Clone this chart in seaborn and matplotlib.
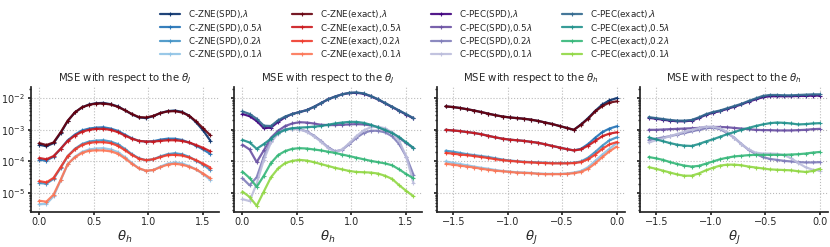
import numpy as np
import pandas as pd
import matplotlib
matplotlib.use("Agg")
import matplotlib.pyplot as plt
import seaborn as sns

# angle grids (25 samples over a quarter turn)
theta_pos = np.linspace(0, np.pi / 2, 25)
theta_neg = np.linspace(-np.pi / 2, 0, 25)

fracs = ["", "0.5", "0.2", "0.1"]

# log10(MSE)
# panel 1: ZNE vs theta_h
zne_spd_h = [
    [-3.47, -3.52, -3.42, -3.10, -2.72, -2.45, -2.29, -2.20, -2.16, -2.15, -2.19, -2.26, -2.38, -2.51, -2.61, -2.63, -2.57, -2.47, -2.41, -2.39, -2.43, -2.55, -2.76, -3.02, -3.34],
    [-3.95, -3.97, -3.85, -3.60, -3.33, -3.15, -3.02, -2.96, -2.93, -2.92, -2.96, -3.03, -3.15, -3.27, -3.35, -3.37, -3.36, -3.31, -3.28, -3.28, -3.32, -3.40, -3.50, -3.62, -3.76],
    [-4.68, -4.70, -4.55, -4.20, -3.83, -3.60, -3.45, -3.37, -3.34, -3.33, -3.37, -3.45, -3.60, -3.77, -3.90, -3.96, -3.93, -3.84, -3.77, -3.74, -3.77, -3.85, -3.97, -4.10, -4.27],
    [-5.35, -5.34, -5.10, -4.60, -4.08, -3.85, -3.70, -3.62, -3.59, -3.58, -3.62, -3.70, -3.86, -4.05, -4.22, -4.30, -4.27, -4.16, -4.07, -4.03, -4.06, -4.14, -4.25, -4.40, -4.58],
]
zne_exact_h = [
    [-3.42, -3.48, -3.40, -3.08, -2.71, -2.45, -2.29, -2.21, -2.17, -2.17, -2.20, -2.27, -2.38, -2.50, -2.60, -2.61, -2.56, -2.47, -2.42, -2.41, -2.45, -2.55, -2.73, -2.95, -3.17],
    [-3.89, -3.93, -3.83, -3.60, -3.35, -3.18, -3.06, -3.00, -2.97, -2.97, -3.00, -3.07, -3.18, -3.28, -3.35, -3.37, -3.37, -3.35, -3.33, -3.33, -3.35, -3.40, -3.48, -3.57, -3.68],
    [-4.62, -4.66, -4.52, -4.18, -3.83, -3.62, -3.48, -3.41, -3.39, -3.39, -3.42, -3.50, -3.64, -3.79, -3.91, -3.96, -3.93, -3.86, -3.80, -3.79, -3.81, -3.87, -3.96, -4.07, -4.19],
    [-5.24, -5.27, -5.05, -4.58, -4.08, -3.87, -3.73, -3.66, -3.65, -3.65, -3.68, -3.75, -3.90, -4.07, -4.22, -4.29, -4.27, -4.18, -4.10, -4.07, -4.10, -4.16, -4.25, -4.38, -4.53],
]
# panel 2: PEC vs theta_h
pec_spd_h = [
    [-2.50, -2.57, -2.72, -2.95, -2.93, -2.75, -2.60, -2.50, -2.44, -2.38, -2.28, -2.16, -2.04, -1.95, -1.88, -1.84, -1.83, -1.86, -1.94, -2.04, -2.16, -2.28, -2.40, -2.52, -2.64],
    [-3.47, -3.62, -4.02, -3.65, -3.25, -3.03, -2.88, -2.80, -2.76, -2.77, -2.80, -2.84, -2.85, -2.85, -2.84, -2.83, -2.82, -2.83, -2.86, -2.92, -3.00, -3.10, -3.25, -3.42, -3.58],
    [-4.53, -4.75, -4.50, -3.85, -3.35, -3.10, -2.98, -2.96, -2.98, -3.05, -3.18, -3.35, -3.55, -3.68, -3.63, -3.45, -3.25, -3.10, -3.03, -3.03, -3.08, -3.20, -3.45, -3.85, -4.42],
    [-5.19, -5.25, -4.70, -3.95, -3.40, -3.12, -3.00, -2.97, -2.99, -3.06, -3.20, -3.37, -3.57, -3.70, -3.62, -3.42, -3.20, -3.02, -2.92, -2.90, -2.95, -3.08, -3.35, -3.85, -4.68],
]
pec_exact_h = [
    [-2.42, -2.50, -2.65, -2.87, -2.88, -2.70, -2.58, -2.50, -2.44, -2.38, -2.28, -2.16, -2.04, -1.95, -1.88, -1.83, -1.82, -1.85, -1.93, -2.03, -2.15, -2.27, -2.39, -2.51, -2.63],
    [-3.32, -3.40, -3.60, -3.45, -3.28, -3.10, -3.00, -2.95, -2.93, -2.92, -2.90, -2.88, -2.84, -2.80, -2.77, -2.75, -2.75, -2.78, -2.84, -2.92, -3.00, -3.10, -3.23, -3.40, -3.57],
    [-4.32, -4.52, -4.80, -4.45, -4.05, -3.80, -3.67, -3.60, -3.58, -3.59, -3.62, -3.65, -3.69, -3.73, -3.78, -3.83, -3.88, -3.93, -3.98, -4.02, -4.06, -4.12, -4.25, -4.40, -4.53],
    [-4.95, -5.12, -5.40, -4.95, -4.50, -4.22, -4.05, -3.98, -3.95, -3.97, -4.02, -4.08, -4.14, -4.20, -4.25, -4.30, -4.33, -4.34, -4.35, -4.38, -4.45, -4.55, -4.75, -4.93, -5.10],
]
# panel 3: ZNE vs theta_J
zne_spd_j = [
    [-2.26, -2.28, -2.31, -2.35, -2.39, -2.44, -2.49, -2.54, -2.58, -2.61, -2.63, -2.65, -2.68, -2.72, -2.77, -2.82, -2.88, -2.94, -3.00, -2.83, -2.63, -2.40, -2.20, -2.07, -2.00],
    [-3.00, -3.02, -3.04, -3.07, -3.10, -3.14, -3.19, -3.24, -3.28, -3.31, -3.33, -3.35, -3.38, -3.41, -3.46, -3.51, -3.56, -3.61, -3.65, -3.60, -3.45, -3.25, -3.07, -2.96, -2.89],
    [-3.66, -3.69, -3.73, -3.77, -3.80, -3.83, -3.86, -3.90, -3.94, -3.97, -3.99, -4.01, -4.02, -4.03, -4.04, -4.05, -4.05, -4.05, -4.04, -4.00, -3.88, -3.70, -3.50, -3.33, -3.24],
    [-4.00, -4.04, -4.08, -4.12, -4.16, -4.20, -4.23, -4.27, -4.30, -4.32, -4.34, -4.35, -4.36, -4.38, -4.39, -4.39, -4.39, -4.38, -4.35, -4.30, -4.18, -3.98, -3.78, -3.60, -3.42],
]
zne_exact_j = [
    [-2.26, -2.28, -2.31, -2.35, -2.39, -2.44, -2.49, -2.54, -2.58, -2.61, -2.63, -2.65, -2.68, -2.72, -2.77, -2.82, -2.88, -2.94, -3.00, -2.84, -2.65, -2.42, -2.25, -2.14, -2.10],
    [-3.00, -3.02, -3.04, -3.07, -3.10, -3.14, -3.19, -3.24, -3.28, -3.31, -3.33, -3.35, -3.38, -3.41, -3.46, -3.51, -3.56, -3.61, -3.65, -3.62, -3.50, -3.35, -3.20, -3.12, -3.08],
    [-3.73, -3.75, -3.78, -3.80, -3.83, -3.86, -3.89, -3.93, -3.96, -3.98, -4.00, -4.02, -4.03, -4.04, -4.05, -4.06, -4.06, -4.06, -4.05, -4.02, -3.93, -3.78, -3.60, -3.46, -3.39],
    [-4.07, -4.10, -4.13, -4.16, -4.19, -4.23, -4.26, -4.29, -4.31, -4.33, -4.35, -4.36, -4.37, -4.39, -4.40, -4.40, -4.40, -4.39, -4.37, -4.33, -4.23, -4.06, -3.86, -3.68, -3.53],
]
# panel 4: PEC vs theta_J
pec_spd_j = [
    [-2.62, -2.65, -2.68, -2.71, -2.73, -2.73, -2.71, -2.63, -2.53, -2.46, -2.41, -2.34, -2.27, -2.20, -2.11, -2.04, -1.97, -1.94, -1.94, -1.94, -1.94, -1.93, -1.93, -1.92, -1.92],
    [-3.00, -3.00, -2.99, -2.98, -2.97, -2.96, -2.95, -2.94, -2.92, -2.91, -2.91, -2.92, -2.94, -2.96, -2.98, -3.00, -3.01, -3.01, -3.02, -3.02, -3.02, -3.01, -3.00, -2.98, -2.97],
    [-3.32, -3.28, -3.24, -3.20, -3.15, -3.10, -3.05, -3.00, -2.95, -2.93, -2.98, -3.10, -3.25, -3.45, -3.63, -3.76, -3.86, -3.92, -3.95, -3.98, -4.00, -4.02, -4.03, -4.03, -4.02],
    [-3.40, -3.33, -3.27, -3.20, -3.13, -3.06, -3.00, -2.95, -2.90, -2.90, -2.95, -3.07, -3.25, -3.45, -3.62, -3.72, -3.75, -3.75, -3.76, -3.80, -3.90, -4.05, -4.18, -4.26, -4.29],
]
pec_exact_j = [
    [-2.60, -2.63, -2.66, -2.69, -2.71, -2.71, -2.69, -2.61, -2.51, -2.44, -2.39, -2.32, -2.25, -2.18, -2.09, -2.01, -1.93, -1.90, -1.90, -1.91, -1.91, -1.90, -1.89, -1.88, -1.88],
    [-3.24, -3.30, -3.36, -3.42, -3.47, -3.50, -3.51, -3.45, -3.37, -3.30, -3.22, -3.14, -3.07, -3.00, -2.94, -2.88, -2.83, -2.79, -2.77, -2.78, -2.80, -2.83, -2.82, -2.80, -2.79],
    [-3.86, -3.90, -3.95, -4.02, -4.08, -4.13, -4.16, -4.14, -4.07, -4.00, -3.93, -3.88, -3.84, -3.82, -3.80, -3.79, -3.79, -3.79, -3.79, -3.79, -3.78, -3.77, -3.75, -3.72, -3.70],
    [-4.18, -4.23, -4.29, -4.35, -4.41, -4.45, -4.45, -4.38, -4.28, -4.20, -4.13, -4.10, -4.10, -4.12, -4.16, -4.19, -4.22, -4.25, -4.26, -4.27, -4.28, -4.31, -4.33, -4.30, -4.23],
]

blues = ["#08306b", "#2171b5", "#4292c6", "#8fc3e6"]
reds = ["#67000d", "#cb181d", "#ef3b2c", "#fc7656"]
purples = ["#3f007d", "#6a51a3", "#807dba", "#bcbddc"]
greens = ["#31688e", "#21918c", "#35b779", "#90d743"]

sns.set_theme(style="ticks")
plt.rcParams["font.family"] = ["DejaVu Sans"]
plt.rcParams["mathtext.fontset"] = "dejavusans"

fig, axes = plt.subplots(1, 4, figsize=(8.3, 2.47), dpi=100, sharey=True)
fig.subplots_adjust(left=0.037, right=0.998, bottom=0.143, top=0.649, wspace=0.08)


def draw(ax, x, groups, colors, names):
    for vals_list, cols, name in zip(groups, colors, names):
        for vals, c, f in zip(vals_list, cols, fracs):
            df = pd.DataFrame({"x": x, "mse": 10 ** np.array(vals)})
            sns.lineplot(data=df, x="x", y="mse", ax=ax, color=c, lw=1.6, alpha=0.9,
                         marker="+", markersize=3, markeredgewidth=0.8,
                         markeredgecolor=c, markerfacecolor=c,
                         label=f"{name},{f}$\\lambda$")


draw(axes[0], theta_pos, [zne_spd_h, zne_exact_h], [blues, reds], ["C-ZNE(SPD)", "C-ZNE(exact)"])
draw(axes[1], theta_pos, [pec_spd_h, pec_exact_h], [purples, greens], ["C-PEC(SPD)", "C-PEC(exact)"])
draw(axes[2], theta_neg, [zne_spd_j, zne_exact_j], [blues, reds], ["C-ZNE(SPD)", "C-ZNE(exact)"])
draw(axes[3], theta_neg, [pec_spd_j, pec_exact_j], [purples, greens], ["C-PEC(SPD)", "C-PEC(exact)"])

titles = ["$\\theta_J$", "$\\theta_J$", "$\\theta_h$", "$\\theta_h$"]
xlabels = ["$\\theta_h$", "$\\theta_h$", "$\\theta_J$", "$\\theta_J$"]
for ax, t, xl in zip(axes, titles, xlabels):
    ax.set_yscale("log")
    ax.set_ylim(2.6e-6, 2.3e-2)
    ax.set_title("MSE with respect to the " + t, fontsize=7.3, pad=4)
    ax.set_xlabel(xl, fontsize=9.5, labelpad=1)
    ax.set_ylabel("")
    ax.grid(True, which="major", ls=":", color="#bbbbbb", lw=0.8)
    ax.tick_params(labelsize=7, length=2.5, pad=1.5)
    ax.tick_params(which="minor", length=1.5)
    ax.get_legend().remove()
    sns.despine(ax=ax)

for ax in axes[:2]:
    ax.set_xticks([0.0, 0.5, 1.0, 1.5])
for ax in axes[2:]:
    ax.set_xticks([-1.5, -1.0, -0.5, 0.0])

h1, l1 = axes[0].get_legend_handles_labels()
h2, l2 = axes[1].get_legend_handles_labels()
fig.legend(h1 + h2, l1 + l2, loc="upper center", bbox_to_anchor=(0.5, 0.995), ncol=4,
           frameon=False, fontsize=6.3, labelspacing=0.15, columnspacing=3.4,
           handlelength=2.3, handletextpad=0.9, borderpad=0.3)

fig.savefig("out.png", dpi=100)
